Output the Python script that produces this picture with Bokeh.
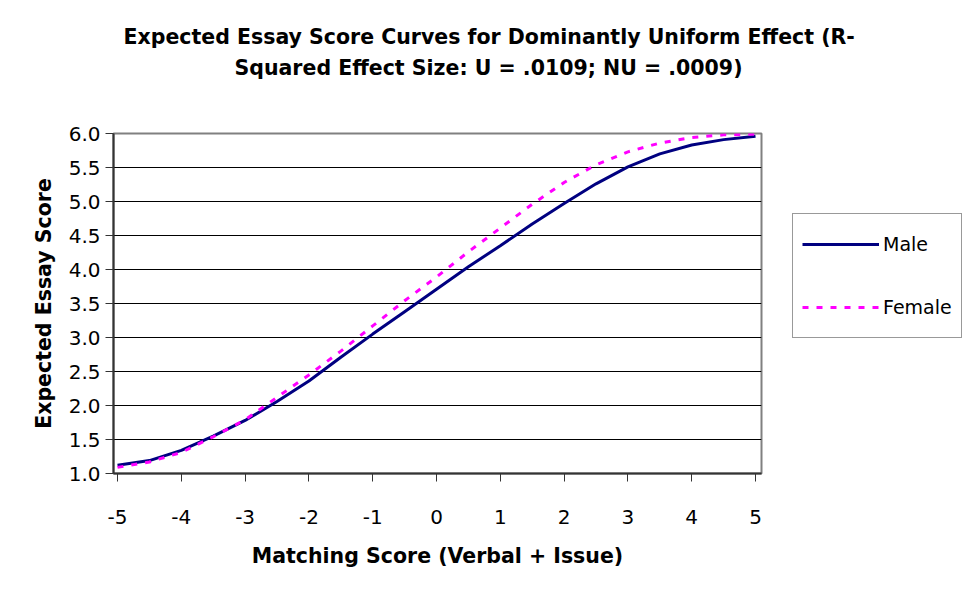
from bokeh.plotting import figure
from bokeh.models import FixedTicker, Legend, LegendItem, Range1d, Title
from bokeh.embed import file_html
from bokeh.resources import INLINE

# ---- data ----
title_lines = [
    "Expected Essay Score Curves for Dominantly Uniform Effect (R-",
    "Squared Effect Size: U = .0109; NU = .0009)",
]
x_axis_label = "Matching Score (Verbal + Issue)"
y_axis_label = "Expected Essay Score"
series_names = ["Male", "Female"]

matching = [-5.0, -4.5, -4.0, -3.5, -3.0, -2.5, -2.0, -1.5, -1.0, -0.5, 0.0,
            0.5, 1.0, 1.5, 2.0, 2.5, 3.0, 3.5, 4.0, 4.5, 5.0]
male = [1.12, 1.19, 1.34, 1.55, 1.78, 2.06, 2.36, 2.71, 3.05, 3.38, 3.71,
        4.04, 4.35, 4.67, 4.97, 5.26, 5.51, 5.70, 5.83, 5.91, 5.96]
female = [1.09, 1.17, 1.31, 1.54, 1.79, 2.12, 2.45, 2.80, 3.17, 3.54, 3.89,
          4.26, 4.61, 4.96, 5.28, 5.54, 5.73, 5.86, 5.94, 5.98, 5.99]

x_ticks = [-5, -4, -3, -2, -1, 0, 1, 2, 3, 4, 5]
x_tick_labels = ["-5", "-4", "-3", "-2", "-1", "0", "1", "2", "3", "4", "5"]
y_ticks = [1.0, 1.5, 2.0, 2.5, 3.0, 3.5, 4.0, 4.5, 5.0, 5.5, 6.0]
y_tick_labels = ["1.0", "1.5", "2.0", "2.5", "3.0", "3.5", "4.0", "4.5", "5.0", "5.5", "6.0"]

# ---- figure ----
p = figure(frame_width=648, frame_height=340, output_backend="svg",
           toolbar_location=None,
           x_range=Range1d(-5.063, 5.094), y_range=Range1d(1.0, 6.0),
           min_border_left=113, min_border_right=193,
           min_border_top=133, min_border_bottom=109)
p.background_fill_color = "white"
p.border_fill_color = "white"
p.outline_line_color = "#808080"
p.outline_line_width = 2

FONT = "DejaVu Sans"

# axes
for ax in (p.xaxis[0], p.yaxis[0]):
    ax.axis_line_color = "#333333"
    ax.axis_line_width = 2
    ax.major_tick_line_color = "#333333"
    ax.major_tick_line_width = 1
    ax.major_tick_out = 8
    ax.major_tick_in = 0
    ax.minor_tick_line_color = None
    ax.major_label_text_font = FONT
    ax.major_label_text_font_size = "20px"
    ax.major_label_text_color = "black"
    ax.axis_label_text_font = FONT
    ax.axis_label_text_font_size = "20.5px"
    ax.axis_label_text_font_style = "bold"
    ax.axis_label_text_color = "black"

p.xaxis.ticker = FixedTicker(ticks=x_ticks)
p.xaxis.major_label_overrides = {t: l for t, l in zip(x_ticks, x_tick_labels)}
p.xaxis.major_label_standoff = 28
p.xaxis.axis_label = x_axis_label
p.xaxis.axis_label_standoff = 17

p.yaxis.ticker = FixedTicker(ticks=y_ticks)
p.yaxis.major_label_overrides = {t: l for t, l in zip(y_ticks, y_tick_labels)}
p.yaxis.major_label_standoff = 5
p.yaxis.axis_label = y_axis_label
p.yaxis.axis_label_standoff = 10

p.xgrid.visible = False
p.ygrid.ticker = FixedTicker(ticks=y_ticks)
p.ygrid.grid_line_color = "black"
p.ygrid.grid_line_width = 1

# series
r_male = p.line(matching, male, line_color="#000080", line_width=3)
r_female = p.line(matching, female, line_color="#FF00FF", line_width=3,
                  line_dash="6 8")

# title: spacer next to the frame, then line 2, then line 1 (outermost)
p.add_layout(Title(text=" ", text_font_size="10px", standoff=39), "above")
p.add_layout(Title(text=title_lines[1], align="left", offset=121,
                   text_font=FONT, text_font_style="bold",
                   text_font_size="20.5px", text_color="black",
                   vertical_align="bottom", standoff=4), "above")
p.add_layout(Title(text=title_lines[0], align="left", offset=10,
                   text_font=FONT, text_font_style="bold",
                   text_font_size="20.5px", text_color="black",
                   vertical_align="bottom", standoff=6), "above")

# legend (right side panel)
legend = Legend(items=[LegendItem(label=series_names[0], renderers=[r_male]),
                       LegendItem(label=series_names[1], renderers=[r_female])],
                location=(31, 135))
legend.padding = 9
legend.spacing = 21
legend.label_height = 42
legend.glyph_height = 42
legend.glyph_width = 77
legend.label_standoff = 4
legend.label_text_font = FONT
legend.label_text_font_size = "19px"
legend.label_text_color = "black"
legend.border_line_color = "#333333"
legend.border_line_width = 1
legend.background_fill_color = "white"
legend.background_fill_alpha = 1.0
legend.margin = 0
p.add_layout(legend, "right")

open("out.html", "w").write(file_html(p, INLINE))
